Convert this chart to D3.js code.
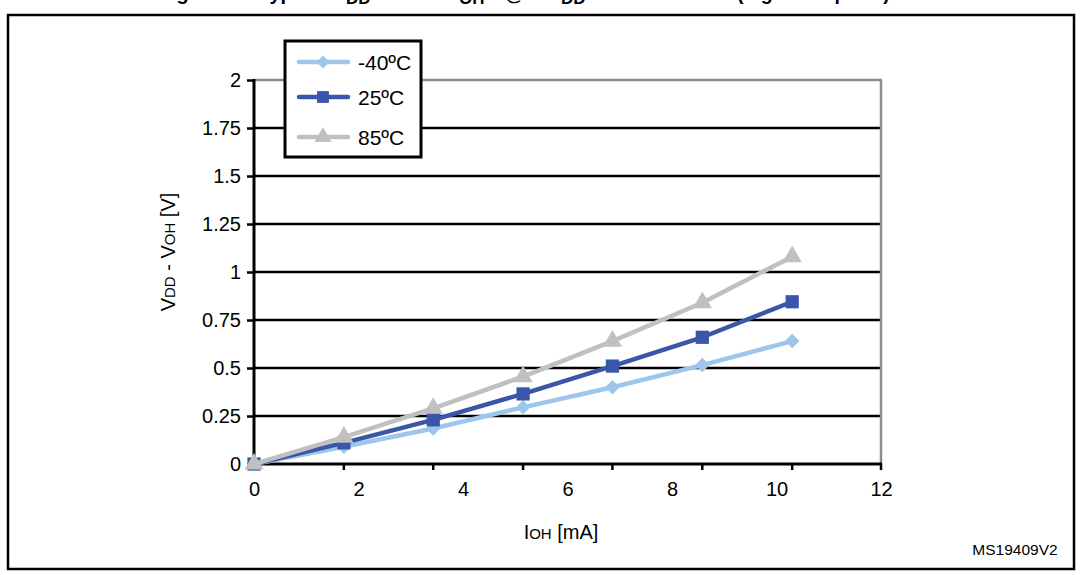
<!DOCTYPE html>
<html><head><meta charset="utf-8">
<script src="https://cdn.jsdelivr.net/npm/d3@7/dist/d3.min.js"></script>
<style>
html,body{margin:0;padding:0;background:#fff;}
svg text{font-family:"Liberation Sans",Arial,sans-serif;fill:#000;}
</style></head>
<body>
<svg id="c" width="1080" height="575"></svg>
<script>
const currents = [0, 1.72, 3.43, 5.15, 6.86, 8.58, 10.3];
const seriesNames = ["-40ºC", "25ºC", "85ºC"];
const valsM40 = [0, 0.09, 0.185, 0.295, 0.40, 0.515, 0.64];
const vals25 = [0, 0.11, 0.23, 0.365, 0.51, 0.66, 0.845];
const vals85 = [0, 0.14, 0.29, 0.455, 0.64, 0.84, 1.08];
const xTicks = [0, 2, 4, 6, 8, 10, 12];
const yTicks = [0, 0.25, 0.5, 0.75, 1, 1.25, 1.5, 1.75, 2];

const colors = ["#9dc6ea", "#3a56a8", "#c0c0c0"];
const symbols = [d3.symbolSquare, d3.symbolSquare, d3.symbolTriangle];
const symRot = [45, 0, 0];
const symSizes = [105, 175, 160];
const allVals = [valsM40, vals25, vals85];

const svg = d3.select("#c");
const L = 254, R = 881, T = 80, B = 464;
const x = d3.scaleLinear().domain([0, 12]).range([L, R]);
const y = d3.scaleLinear().domain([0, 2]).range([B, T]);

// outer frame
svg.append("rect").attr("x", 8).attr("y", 15).attr("width", 1066).attr("height", 554)
  .attr("fill", "none").attr("stroke", "#000").attr("stroke-width", 2.5);

// cut-off title (only its lower part is visible in the reference)
const tParts = [
  {t: "Figure 29. Typical V", x: 345, a: "end", s: 20, dy: 0},
  {t: "DD", x: 346, a: "start", s: 17, dy: 4},
  {t: " - V", x: 376, a: "start", s: 20, dy: 0},
  {t: "OH", x: 459, a: "start", s: 17, dy: 4},
  {t: "@ V", x: 505, a: "start", s: 20, dy: 0},
  {t: "DD", x: 561, a: "start", s: 17, dy: 4},
  {t: " = 5 V", x: 587, a: "start", s: 20, dy: 0},
  {t: "(high sink ports)", x: 737, a: "start", s: 19.5, dy: 0}
];
tParts.forEach(p => {
  svg.append("text").attr("x", p.x).attr("y", 0 + p.dy).attr("text-anchor", p.a)
    .style("font-size", p.s + "px").style("font-weight", "bold").text(p.t);
});

// gridlines
svg.append("g").selectAll("line").data(yTicks.filter(v => v > 0 && v < 2)).join("line")
  .attr("x1", L).attr("x2", R).attr("y1", d => y(d)).attr("y2", d => y(d))
  .attr("stroke", "#000").attr("stroke-width", 2.5);
// top and right borders (gray)
svg.append("line").attr("x1", L).attr("x2", R + 1).attr("y1", y(2)).attr("y2", y(2))
  .attr("stroke", "#8c8c8c").attr("stroke-width", 2.5);
svg.append("line").attr("x1", R).attr("x2", R).attr("y1", y(2)).attr("y2", B)
  .attr("stroke", "#8c8c8c").attr("stroke-width", 2.5);

// y axis
const yAxis = svg.append("g").attr("transform", `translate(${L},0)`)
  .call(d3.axisLeft(y).tickValues(yTicks).tickSize(7).tickPadding(6).tickFormat(d => String(d)));
yAxis.select(".domain").attr("stroke", "#000").attr("stroke-width", 3).attr("d", `M0,${T - 1}V${B + 1}`);
yAxis.selectAll(".tick line").attr("stroke", "#000").attr("stroke-width", 2.5);
yAxis.selectAll(".tick text").style("font-size", "20px").attr("fill", "#000");

// x axis labels (linear), ticks at data points
const xAxis = svg.append("g").attr("transform", `translate(0,${B})`)
  .call(d3.axisBottom(x).tickValues(xTicks).tickSize(0).tickPadding(18).tickFormat(d => String(d)));
xAxis.select(".domain").remove();
xAxis.selectAll(".tick text").style("font-size", "20px").attr("fill", "#000");
svg.append("g").selectAll("line").data(currents.slice(1).concat([12])).join("line")
  .attr("x1", d => x(d)).attr("x2", d => x(d)).attr("y1", B).attr("y2", B + 6)
  .attr("stroke", "#000").attr("stroke-width", 2.5);
svg.append("line").attr("x1", L - 1).attr("x2", R + 1).attr("y1", B).attr("y2", B)
  .attr("stroke", "#000").attr("stroke-width", 3);

// series
const line = d3.line().x(d => x(d[0])).y(d => y(d[1]));
allVals.forEach((vals, i) => {
  const pts = currents.map((c, j) => [c, vals[j]]);
  const g = svg.append("g");
  g.append("path").attr("d", line(pts)).attr("fill", "none")
    .attr("stroke", colors[i]).attr("stroke-width", 4.5).attr("stroke-linejoin", "round");
  g.selectAll("path.m").data(pts).join("path").attr("class", "m")
    .attr("transform", d => `translate(${x(d[0])},${y(d[1])}) rotate(${symRot[i]})`)
    .attr("d", d3.symbol().type(symbols[i]).size(symSizes[i]))
    .attr("fill", colors[i]);
});

// legend
const lg = svg.append("g");
lg.append("rect").attr("x", 285).attr("y", 41).attr("width", 136).attr("height", 116)
  .attr("fill", "#fff").attr("stroke", "#000").attr("stroke-width", 3);
const legY = [62, 97, 137];
seriesNames.forEach((n, i) => {
  lg.append("line").attr("x1", 299).attr("x2", 348).attr("y1", legY[i]).attr("y2", legY[i])
    .attr("stroke", colors[i]).attr("stroke-width", 4.5).attr("stroke-linecap", "round");
  lg.append("path").attr("transform", `translate(323,${legY[i]}) rotate(${symRot[i]})`)
    .attr("d", d3.symbol().type(symbols[i]).size(symSizes[i] * 0.8)).attr("fill", colors[i]);
  lg.append("text").attr("x", 358).attr("y", legY[i] + 7.5).style("font-size", "21px").text(n);
});

// y axis title
const yt = svg.append("text").attr("transform", "translate(175,252) rotate(-90)")
  .attr("text-anchor", "middle").style("font-size", "20px");
yt.append("tspan").text("V");
yt.append("tspan").style("font-size", "15px").text("DD");
yt.append("tspan").text(" - V");
yt.append("tspan").style("font-size", "15px").text("OH");
yt.append("tspan").text(" [V]");

// x axis title
const xt = svg.append("text").attr("x", 561).attr("y", 539).attr("text-anchor", "middle")
  .style("font-size", "20px");
xt.append("tspan").text("I");
xt.append("tspan").style("font-size", "15px").text("OH");
xt.append("tspan").text(" [mA]");

svg.append("text").attr("x", 1015).attr("y", 555).attr("text-anchor", "middle")
  .style("font-size", "15.5px").text("MS19409V2");
</script>
</body></html>
